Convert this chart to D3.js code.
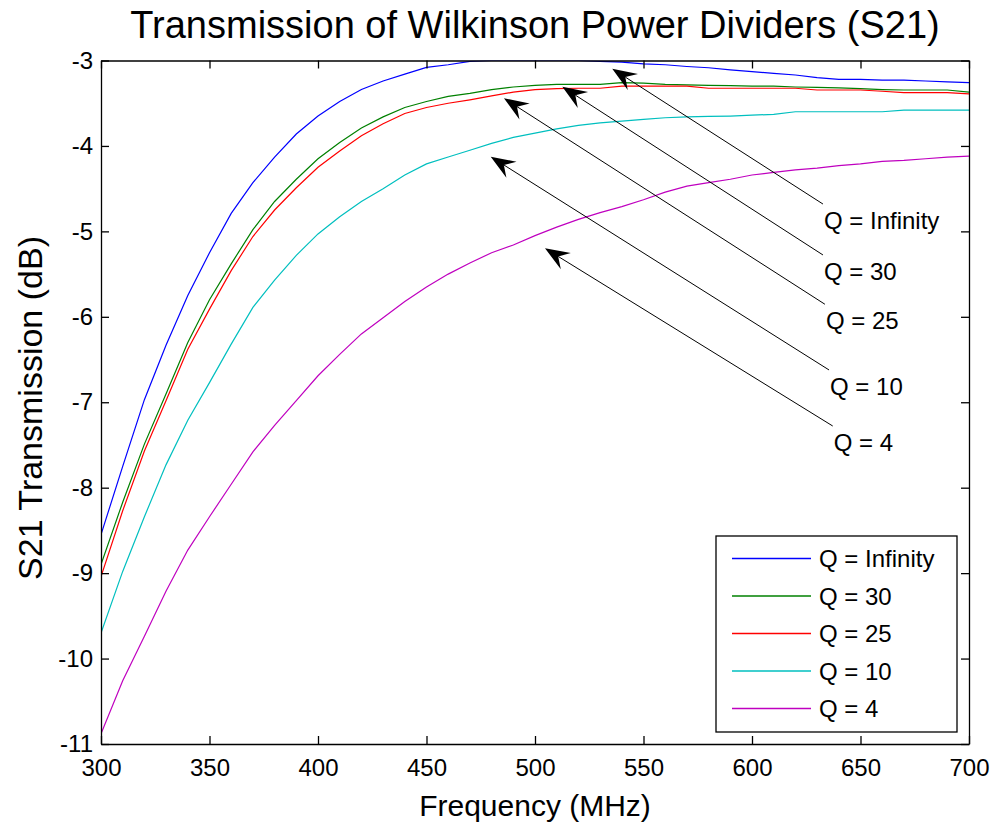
<!DOCTYPE html>
<html lang="en">
  <head>
    <meta charset="UTF-8" />
    <title>Transmission of Wilkinson Power Dividers (S21)</title>
    <style>
      body { margin: 0; background: #fff; }
      text { font-family: "Liberation Sans", Arial, sans-serif; fill: #000; }
      .axis path, .axis line { stroke: #000; stroke-width: 1.3; }
      .axis text { font-size: 24px; }
    </style>
  </head>
  <body>
    <script src="https://cdn.jsdelivr.net/npm/d3@7/dist/d3.min.js"></script>
    <script>
    // frequencies (MHz)
    var freqs = [300, 310, 320, 330, 340, 350, 360, 370, 380, 390,
                 400, 410, 420, 430, 440, 450, 460, 470, 480, 490,
                 500, 510, 520, 530, 540, 550, 560, 570, 580, 590,
                 600, 610, 620, 630, 640, 650, 660, 670, 680, 690, 700];

    // S21 (dB) for each Q
    var qInf = [-8.55, -7.75, -6.97, -6.33, -5.75, -5.25, -4.79, -4.43, -4.13, -3.86,
                -3.65, -3.48, -3.34, -3.24, -3.16, -3.08, -3.05, -3.01, -3.00, -3.00,
                -3.00, -3.00, -3.00, -3.01, -3.02, -3.04, -3.05, -3.07, -3.085, -3.11,
                -3.13, -3.15, -3.17, -3.20, -3.22, -3.22, -3.23, -3.23, -3.24, -3.25, -3.26];
    var q30 = [-8.90, -8.17, -7.49, -6.90, -6.30, -5.80, -5.38, -4.98, -4.65, -4.39,
               -4.15, -3.96, -3.79, -3.66, -3.55, -3.48, -3.42, -3.385, -3.34, -3.31,
               -3.29, -3.28, -3.28, -3.28, -3.26, -3.265, -3.28, -3.285, -3.29, -3.295,
               -3.30, -3.30, -3.31, -3.315, -3.32, -3.33, -3.34, -3.345, -3.345, -3.345, -3.37];
    var q25 = [-9.04, -8.27, -7.57, -6.98, -6.38, -5.91, -5.46, -5.06, -4.75, -4.49,
               -4.25, -4.06, -3.88, -3.74, -3.62, -3.55, -3.50, -3.46, -3.415, -3.37,
               -3.34, -3.33, -3.325, -3.325, -3.30, -3.30, -3.30, -3.30, -3.325, -3.325,
               -3.325, -3.325, -3.325, -3.345, -3.345, -3.345, -3.36, -3.375, -3.375, -3.375, -3.39];
    var q10 = [-9.70, -8.98, -8.34, -7.73, -7.21, -6.77, -6.32, -5.89, -5.57, -5.28,
               -5.03, -4.83, -4.65, -4.50, -4.34, -4.21, -4.13, -4.05, -3.97, -3.90,
               -3.85, -3.80, -3.76, -3.73, -3.71, -3.69, -3.67, -3.66, -3.655, -3.65,
               -3.64, -3.63, -3.60, -3.60, -3.60, -3.60, -3.60, -3.58, -3.58, -3.58, -3.58];
    var q4 = [-10.88, -10.26, -9.74, -9.21, -8.73, -8.34, -7.96, -7.58, -7.27, -6.98,
              -6.69, -6.44, -6.20, -6.01, -5.82, -5.65, -5.50, -5.37, -5.25, -5.16,
              -5.05, -4.95, -4.86, -4.78, -4.71, -4.63, -4.54, -4.47, -4.43, -4.39,
              -4.34, -4.31, -4.28, -4.26, -4.23, -4.21, -4.18, -4.17, -4.15, -4.13, -4.12];

    var seriesNames = ["Q = Infinity", "Q = 30", "Q = 25", "Q = 10", "Q = 4"];
    var seriesColors = ["#0000ff", "#008000", "#ff0000", "#00bfbf", "#bf00bf"];
    var seriesValues = [qInf, q30, q25, q10, q4];

    var xTicks = [300, 350, 400, 450, 500, 550, 600, 650, 700];
    var yTicks = [-3, -4, -5, -6, -7, -8, -9, -10, -11];

    // text arrows (data coords): tip, tail
    var annoLabels = ["Q = Infinity", "Q = 30", "Q = 25", "Q = 10", "Q = 4"];
    var annoTipX = [535.6, 512.6, 485.7, 479.6, 504.6];
    var annoTipY = [-3.096, -3.307, -3.442, -4.126, -5.198];
    var annoTailX = [632.7, 632.7, 633.6, 635.5, 637.2];
    var annoTailY = [-4.68, -5.276, -5.853, -6.622, -7.278];

    var width = 996, height = 825;
    var margin = {top: 60.5, right: 27, bottom: 81, left: 101};
    var plotW = width - margin.left - margin.right;
    var plotH = height - margin.top - margin.bottom;

    var xScale = d3.scaleLinear().domain([300, 700]).range([0, plotW]);
    var yScale = d3.scaleLinear().domain([-11, -3]).range([plotH, 0]);

    var svg = d3.select("body").append("svg")
        .attr("width", width)
        .attr("height", height);

    svg.append("rect").attr("width", width).attr("height", height).attr("fill", "#fff");

    var g = svg.append("g")
        .attr("transform", "translate(" + margin.left + "," + margin.top + ")");

    g.append("clipPath").attr("id", "clip")
      .append("rect").attr("width", plotW).attr("height", plotH);

    // curves
    var line = d3.line()
        .x(function(d) { return xScale(d[0]); })
        .y(function(d) { return yScale(d[1]); });

    seriesValues.forEach(function(vals, i) {
      var pts = freqs.map(function(f, j) { return [f, vals[j]]; });
      g.append("path")
        .datum(pts)
        .attr("clip-path", "url(#clip)")
        .attr("fill", "none")
        .attr("stroke", seriesColors[i])
        .attr("stroke-width", 1.2)
        .attr("d", line);
    });

    // plain hyphen minus like the original
    var fmt = function(d) { return String(d); };

    // axes, ticks inward on all four sides
    g.append("g").attr("class", "axis")
      .attr("transform", "translate(0," + plotH + ")")
      .call(d3.axisBottom(xScale).tickValues(xTicks).tickSizeInner(-8).tickSizeOuter(0).tickPadding(14.5).tickFormat(fmt));
    g.append("g").attr("class", "axis")
      .call(d3.axisTop(xScale).tickValues(xTicks).tickSizeInner(-8).tickSizeOuter(0).tickFormat(""));
    g.append("g").attr("class", "axis")
      .call(d3.axisLeft(yScale).tickValues(yTicks).tickSizeInner(-8).tickSizeOuter(0).tickPadding(8).tickFormat(fmt));
    g.append("g").attr("class", "axis")
      .attr("transform", "translate(" + plotW + ",0)")
      .call(d3.axisRight(yScale).tickValues(yTicks).tickSizeInner(-8).tickSizeOuter(0).tickFormat(""));

    // title and labels
    svg.append("text")
      .attr("x", margin.left + plotW / 2)
      .attr("y", 38)
      .attr("text-anchor", "middle")
      .style("font-size", "38px")
      .text("Transmission of Wilkinson Power Dividers (S21)");

    svg.append("text")
      .attr("x", margin.left + plotW / 2)
      .attr("y", 816)
      .attr("text-anchor", "middle")
      .style("font-size", "30px")
      .text("Frequency (MHz)");

    svg.append("text")
      .attr("transform", "translate(42,408) rotate(-90)")
      .attr("text-anchor", "middle")
      .style("font-size", "34px")
      .text("S21 Transmission (dB)");

    // arrows
    var headL = 24.5, headW = 9.5, notch = 15.5;
    annoLabels.forEach(function(lbl, i) {
      var tx = xScale(annoTipX[i]), ty = yScale(annoTipY[i]);
      var sx = xScale(annoTailX[i]), sy = yScale(annoTailY[i]);
      var dx = sx - tx, dy = sy - ty;
      var len = Math.sqrt(dx * dx + dy * dy);
      var ux = dx / len, uy = dy / len;
      var px = -uy, py = ux;
      g.append("line")
        .attr("x1", sx).attr("y1", sy)
        .attr("x2", tx + ux * notch).attr("y2", ty + uy * notch)
        .attr("stroke", "#000").attr("stroke-width", 1);
      var head = [
        [tx, ty],
        [tx + ux * headL + px * headW, ty + uy * headL + py * headW],
        [tx + ux * notch, ty + uy * notch],
        [tx + ux * headL - px * headW, ty + uy * headL - py * headW]
      ];
      g.append("polygon")
        .attr("points", head.map(function(p) { return p.join(","); }).join(" "))
        .attr("fill", "#000");
      g.append("text")
        .attr("x", sx + 1)
        .attr("y", sy + 25)
        .style("font-size", "24px")
        .text(lbl);
    });

    // legend
    var legend = svg.append("g").attr("transform", "translate(716,536)");
    legend.append("rect")
      .attr("width", 241).attr("height", 196)
      .attr("fill", "#fff").attr("stroke", "#000").attr("stroke-width", 1.3);
    seriesNames.forEach(function(name, i) {
      var yy = 22.5 + i * 37.5;
      legend.append("line")
        .attr("x1", 16).attr("x2", 95)
        .attr("y1", yy).attr("y2", yy)
        .attr("stroke", seriesColors[i]).attr("stroke-width", 1.3);
      legend.append("text")
        .attr("x", 103).attr("y", yy + 8.6)
        .style("font-size", "24px")
        .text(name);
    });
    </script>
  </body>
</html>
